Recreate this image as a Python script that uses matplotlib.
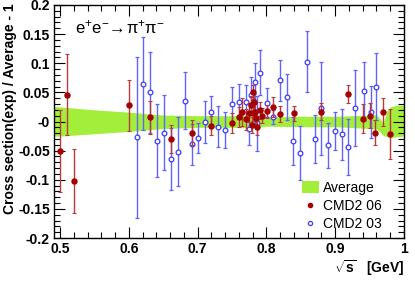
import matplotlib
matplotlib.use("Agg")
import matplotlib.pyplot as plt
import matplotlib.patches as mpatches
from matplotlib.lines import Line2D
from matplotlib.ticker import MultipleLocator, FixedLocator

plt.rcParams['font.family'] = ['Liberation Sans', 'DejaVu Sans']
plt.rcParams['mathtext.fontset'] = 'custom'
plt.rcParams['mathtext.rm'] = 'Liberation Sans'
plt.rcParams['mathtext.bf'] = 'Liberation Sans:bold'

# uncertainty band of the average
band_x = [0.49, 0.50, 0.55, 0.60, 0.65, 0.70, 0.75, 0.78, 0.80, 0.85, 0.90, 0.95, 0.96, 0.965, 0.97, 0.975, 0.98, 0.99, 1.0]
band_hi = [0.026, 0.025, 0.020, 0.016, 0.011, 0.010, 0.010, 0.011, 0.008, 0.009, 0.009, 0.011, 0.012, 0.005, -0.003, 0.018, 0.025, 0.028, 0.028]
band_lo = [-0.025, -0.025, -0.021, -0.017, -0.012, -0.010, -0.010, -0.011, -0.008, -0.009, -0.009, -0.012, -0.013, -0.018, -0.024, -0.026, -0.028, -0.026, -0.025]

# CMD2 06
x06 = [0.500, 0.510, 0.520, 0.600, 0.630, 0.661, 0.691, 0.720, 0.750, 0.760, 0.765, 0.770, 0.774, 0.778, 0.7785,
       0.780, 0.781, 0.782, 0.784, 0.785, 0.786, 0.790, 0.794, 0.801, 0.810, 0.820, 0.840, 0.880, 0.919, 0.940,
       0.950, 0.958, 0.970, 0.979]
y06 = [-0.051, 0.046, -0.102, 0.028, 0.007, -0.030, -0.019, -0.007, -0.002, 0.008, 0.016, 0.004, 0.015, 0.028, -0.006,
       0.051, 0.014, 0.034, 0.017, 0.0055, -0.010, 0.019, 0.010, 0.0175, 0.025, 0.013, 0.014, 0.017, 0.047, 0.005,
       0.010, -0.019, 0.017, -0.022]
e06 = [0.070, 0.070, 0.055, 0.044, 0.028, 0.024, 0.021, 0.016, 0.017, 0.0175, 0.024, 0.018, 0.016, 0.015, 0.014,
       0.012, 0.013, 0.014, 0.013, 0.013, 0.013, 0.014, 0.013, 0.011, 0.017, 0.014, 0.013, 0.015, 0.016, 0.025,
       0.022, 0.022, 0.024, 0.043]

# CMD2 03
x03 = [0.611, 0.621, 0.631, 0.641, 0.651, 0.661, 0.671, 0.681, 0.691, 0.701, 0.711, 0.720, 0.730, 0.740, 0.750,
       0.760, 0.770, 0.774, 0.778, 0.784, 0.7865, 0.790, 0.801, 0.810, 0.820, 0.830, 0.839, 0.849, 0.859, 0.870,
       0.880, 0.890, 0.900, 0.910, 0.919, 0.929, 0.942, 0.952, 0.960]
y03 = [-0.027, 0.065, 0.050, -0.033, -0.019, -0.064, -0.052, 0.036, -0.039, -0.028, -0.001, 0.016, -0.009, -0.015, 0.030,
       0.034, 0.034, -0.013, 0.046, 0.068, -0.003, 0.084, 0.032, 0.008, 0.071, 0.042, -0.033, -0.054, 0.103, -0.030,
       0.023, -0.041, -0.016, -0.022, -0.043, 0.023, 0.052, 0.016, 0.060]
e03 = [0.138, 0.080, 0.070, 0.063, 0.065, 0.053, 0.059, 0.049, 0.035, 0.026, 0.036, 0.027, 0.035, 0.031, 0.029,
       0.030, 0.028, 0.028, 0.030, 0.032, 0.047, 0.038, 0.025, 0.012, 0.035, 0.039, 0.041, 0.047, 0.052, 0.041,
       0.080, 0.039, 0.033, 0.044, 0.048, 0.065, 0.050, 0.045, 0.057]

y_ticks = [-0.2, -0.15, -0.1, -0.05, 0.0, 0.05, 0.1, 0.15, 0.2]
y_labels = ['-0.2', '-0.15', '-0.1', '-0.05', '-0', '0.05', '0.1', '0.15', '0.2']
x_ticks = [0.5, 0.6, 0.7, 0.8, 0.9, 1.0]
x_labels = ['0.5', '0.6', '0.7', '0.8', '0.9', '1']

green = '#a2ee3a'
red = '#a40000'
blue = '#3a3aff'

fig = plt.figure(figsize=(4.15, 2.81), dpi=100)
ax = fig.add_axes([54/415, 1-238/281, 350/415, 233/281])

ax.fill_between(band_x, band_lo, band_hi, color=green, lw=0, zorder=1)

ax.errorbar(x03, y03, yerr=e03, fmt='o', ms=3.4, mfc='white', mec=blue, mew=0.9,
            ecolor='#6262ff', elinewidth=1, capsize=1.5, capthick=0.8, zorder=2)
ax.errorbar(x06, y06, yerr=e06, fmt='o', ms=3.6, mfc=red, mec=red,
            ecolor='#b83a3a', elinewidth=1, capsize=1.5, capthick=0.8, zorder=3)

ax.set_xlim(0.491, 1.0)
ax.set_ylim(-0.2, 0.2)
ax.xaxis.set_major_locator(FixedLocator(x_ticks))
ax.set_xticklabels(x_labels)
ax.yaxis.set_major_locator(FixedLocator(y_ticks))
ax.set_yticklabels(y_labels)
ax.xaxis.set_minor_locator(MultipleLocator(0.02))
ax.yaxis.set_minor_locator(MultipleLocator(0.01))
ax.tick_params(which='both', direction='in', top=True, right=True, width=0.8)
ax.tick_params(which='major', length=8, labelsize=10, pad=3)
ax.tick_params(which='minor', length=4)
for lab in ax.get_xticklabels() + ax.get_yticklabels():
    lab.set_fontweight('bold')
for sp in ax.spines.values():
    sp.set_linewidth(1)

fig.text(10/415, 1-3/281, 'Cross section(exp) / Average - 1', rotation=90,
         ha='center', va='top', fontsize=10, fontweight='bold')
fig.text(404/415, 1-268/281, r'$\sqrt{\mathbf{s}}$   [GeV]', ha='right', va='center',
         fontsize=10, fontweight='bold')
ax.text(75/415, 1-27/281, r'$\mathrm{e^{+}e^{-}\!\rightarrow\!\pi^{+}\pi^{-}}$', transform=fig.transFigure,
        ha='left', va='center', fontsize=12)

handles = [mpatches.Patch(color=green, lw=0),
           Line2D([], [], ls='none', marker='o', ms=3, color=red),
           Line2D([], [], ls='none', marker='o', ms=3, mfc='white', mec=blue, mew=0.9)]
ax.legend(handles, ['Average', 'CMD2 06', 'CMD2 03'], loc='upper left',
          bbox_to_anchor=(302/415, 1-181/281), bbox_transform=fig.transFigure,
          frameon=False, fontsize=10, borderpad=0, borderaxespad=0,
          handlelength=1.2, handleheight=0.9, handletextpad=0.3, labelspacing=0.3)

fig.savefig('out.png', dpi=100)
